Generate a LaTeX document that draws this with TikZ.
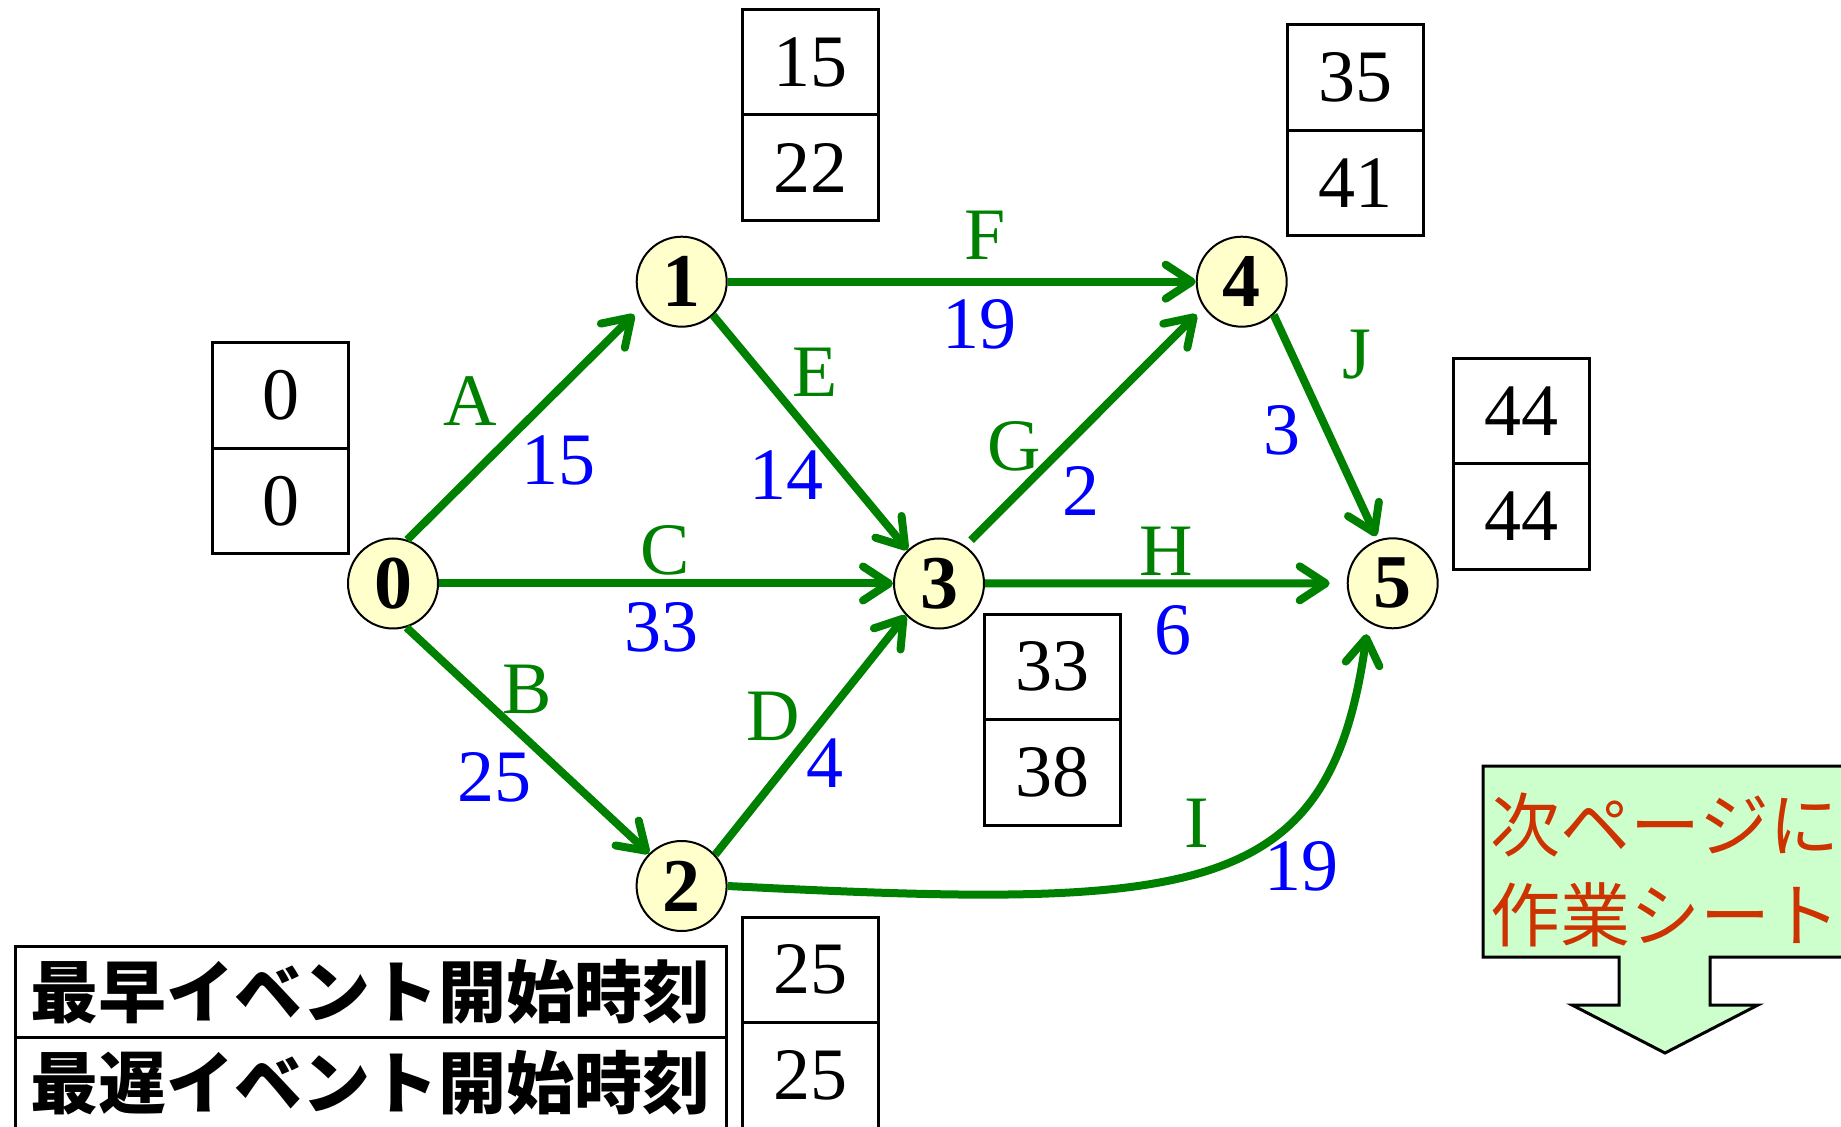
\documentclass[tikz,border=0pt]{standalone}
\usepackage{fontspec}
\setmainfont{Liberation Serif}
\newfontfamily\jpfont{Noto Sans CJK JP}
\usetikzlibrary{positioning,arrows.meta}
\definecolor{arcgreen}{HTML}{008000}
\definecolor{durblue}{HTML}{0000FF}
\definecolor{evtfill}{HTML}{FFFFCC}
\definecolor{notefill}{HTML}{CCFFCC}
\definecolor{notered}{HTML}{CC3300}
\tikzset{
  event/.style={circle, draw, fill=evtfill, line width=1pt, minimum size=45pt, inner sep=0pt, font=\fontsize{38}{40}\selectfont\bfseries},
  cell/.style={draw, line width=1.5pt, minimum width=68pt, minimum height=52.75pt, inner sep=0pt, outer sep=0pt, font=\fontsize{37}{40}\selectfont},
  legend/.style={draw, line width=1.5pt, minimum width=355.5pt, minimum height=45.5pt, inner sep=0pt, outer sep=0pt, font=\jpfont\bfseries\fontsize{34}{36}\selectfont},
  act/.style={line width=4pt, draw=arcgreen, -{Straight Barb[length=13pt, width=17pt, round]}},
  actname/.style={text=arcgreen, font=\fontsize{37}{40}\selectfont, inner sep=0pt},
  dur/.style={text=durblue, font=\fontsize{37}{40}\selectfont, inner sep=0pt},
}
\begin{document}
\begin{tikzpicture}[x=0.5pt,y=-0.5pt]
  \path[use as bounding box, clip] (0,0) rectangle (1841,1127);

  \node[event] (n0) at (393,583.5) {0};
  \node[event] (n1) at (681.7,281.7) {1};
  \node[event] (n2) at (681.6,886) {2};
  \node[event] (n3) at (939,583.5) {3};
  \node[event] (n4) at (1241.7,281.7) {4};
  \node[event] (n5) at (1392.7,583.3) {5};

  \node[cell] (e0) at (280.6,395.75) {0};
  \node[cell, below=0pt of e0] (l0) {0};
  \node[cell] (e1) at (810,62.2) {15};
  \node[cell, below=0pt of e1] (l1) {22};
  \node[cell] (e2) at (810,969.8) {25};
  \node[cell, below=0pt of e2] (l2) {25};
  \node[cell] (e3) at (1052,666.8) {33};
  \node[cell, below=0pt of e3] (l3) {38};
  \node[cell] (e4) at (1355,77.5) {35};
  \node[cell, below=0pt of e4] (l4) {41};
  \node[cell] (e5) at (1521,410.8) {44};
  \node[cell, below=0pt of e5] (l5) {44};

  \draw[act, shorten >=6pt] (n0.72) -- (n1.212);
  \draw[act] (n0.-73) -- (n2.135);
  \draw[act] (n0) -- (n3);
  \draw[act] (n2.43) -- (n3.-136);
  \draw[act] (n1.-47) -- (n3.133);
  \draw[act] (n1) -- (n4);
  \draw[act, shorten <=4pt, shorten >=5pt] (n3.55) -- (n4.-146);
  \draw[act, shorten >=8.5pt] (n3) -- (n5);
  \draw[act, shorten >=6pt] (n2.east) .. controls (1200,910) and (1330,900) .. (n5.-122);
  \draw[act, shorten >=2pt] (n4.-46) -- (n5.109);

  \node[actname] (lA) at (470,401) {A};
  \node[dur] (dA) at (558,460) {15};
  \node[actname] (lB) at (527,689) {B};
  \node[dur] (dB) at (494,777) {25};
  \node[actname] (lC) at (665,550) {C};
  \node[dur] (dC) at (661,627) {33};
  \node[actname] (lD) at (773.5,716.7) {D};
  \node[dur] (dD) at (824.5,763) {4};
  \node[actname] (lE) at (815,372) {E};
  \node[dur] (dE) at (786.7,475) {14};
  \node[actname] (lF) at (985,235) {F};
  \node[dur] (dF) at (979,324) {19};
  \node[actname] (lG) at (1014,446) {G};
  \node[dur] (dG) at (1081,491) {2};
  \node[actname] (lH) at (1166.7,551.7) {H};
  \node[dur] (dH) at (1173,630.5) {6};
  \node[actname] (lI) at (1197,823) {I};
  \node[dur] (dI) at (1301.5,866.7) {19};
  \node[actname] (lJ) at (1356.7,355) {J};
  \node[dur] (dJ) at (1281.7,430) {3};

  \node[legend] (early) at (370.5,991.5) {最早イベント開始時刻};
  \node[legend, below=0pt of early] (late) {最遅イベント開始時刻};

  \draw[line width=1.5pt, fill=notefill] (1483,766) -- (1847,766) -- (1847,957) -- (1710,957)
    -- (1710,1005) -- (1758,1005) -- (1665,1053) -- (1572,1005) -- (1619,1005) -- (1619,957)
    -- (1483,957) -- cycle;
  \node[text=notered, align=center, inner sep=0pt, font=\jpfont\fontsize{35}{45}\selectfont] (nextpage) at (1665,870) {次ページに\\作業シート};
\end{tikzpicture}
\end{document}
